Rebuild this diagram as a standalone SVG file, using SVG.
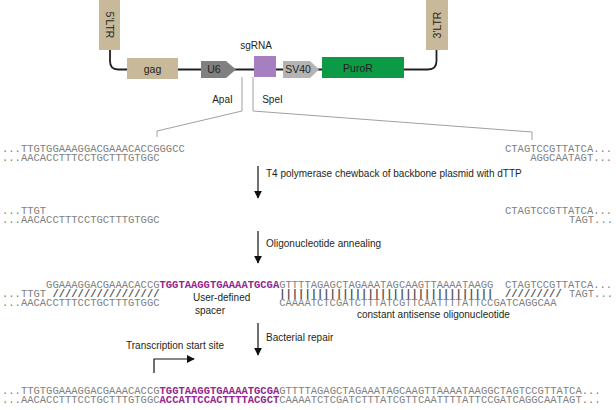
<svg xmlns="http://www.w3.org/2000/svg" width="616" height="410" viewBox="0 0 616 410">
<style>
.lbl{font-family:"Liberation Sans",Arial,sans-serif;font-size:10px;fill:#231f20}
.box{font-family:"Liberation Sans",Arial,sans-serif;font-size:10.5px;fill:#231f20;text-anchor:middle}
.seq{font-family:"Liberation Mono","Courier New",monospace;font-size:10.5px;fill:#808080}
.pur{fill:#93278f;font-weight:bold}
.sl{fill:#555;font-weight:bold}
.gl{fill:none;stroke:#a0a0a0;stroke-width:1}
.arr{stroke:#111;stroke-width:1.2;fill:none}
</style>
<defs>
<marker id="ah" viewBox="0 0 10 10" refX="9" refY="5" markerWidth="8" markerHeight="9" markerUnits="userSpaceOnUse" orient="auto"><path d="M0,0 L10,5 L0,10 z" fill="#111"/></marker>
</defs>
<rect width="616" height="410" fill="#fff"/>
<g id="connectors">
<path d="M110,50 V61 Q110,69.5 118,69.5 H428 Q436.5,69.5 436.5,61 V50" fill="none" stroke="#231f20" stroke-width="1.8"/>
<path class="gl" d="M242,77 V111 L157,131 V137"/>
<path class="gl" d="M253,77 V111 L532,132 V140"/>
<path class="arr" d="M258,166 V198" marker-end="url(#ah)"/>
<path class="arr" d="M258,231 V263" marker-end="url(#ah)"/>
<path class="arr" d="M258,323 V355" marker-end="url(#ah)"/>
<path class="arr" d="M154,373 V359 H194" marker-end="url(#ah)"/>
</g>
<g id="ltr5"><rect x="99" y="0" width="21" height="50" fill="#c8b99b"/><text class="box" transform="translate(109.5,25) rotate(90)" dy="3.5">5'LTR</text></g>
<g id="ltr3"><rect x="426" y="0" width="22" height="50" fill="#c8b99b"/><text class="box" transform="translate(437,25) rotate(-90)" dy="3.5">3'LTR</text></g>
<g id="gag"><rect x="127" y="58" width="51" height="21" fill="#c8b99b"/><text class="box" x="152.5" y="72.5">gag</text></g>
<g id="u6"><polygon points="201,61 226,61 236,69.5 226,78 201,78" fill="#808080"/><text class="box" x="214" y="73">U6</text></g>
<g id="sgrna"><rect x="254" y="56" width="22" height="21" fill="#a67fc1"/><text class="lbl" x="256" y="49" text-anchor="middle" font-size="11">sgRNA</text></g>
<g id="sv40"><polygon points="283,61 310,61 319,69.5 310,78 283,78" fill="#b3b3b3"/><text class="box" x="298" y="73">SV40</text></g>
<g id="puror"><rect x="322" y="57" width="82" height="21" fill="#0c9a46"/><text class="box" x="358" y="71.5">PuroR</text></g>
<g id="sites"><text class="lbl" x="222.5" y="103" text-anchor="middle">ApaI</text><text class="lbl" x="272.5" y="103" text-anchor="middle">SpeI</text></g>
<g id="row1">
<text class="seq"><tspan x="2" y="152">...TTGTGGAAAGGACGAAACACCGGGCC</tspan><tspan x="2" y="161">...AACACCTTTCCTGCTTTGTGGC</tspan></text>
<text class="seq"><tspan x="505" y="152">CTAGTCCGTTATCA...</tspan><tspan x="530.2" y="161">AGGCAATAGT...</tspan></text>
</g>
<g id="step1"><text class="lbl" x="266" y="177">T4 polymerase chewback of backbone plasmid with dTTP</text></g>
<g id="row2">
<text class="seq"><tspan x="2" y="214">...TTGT</tspan><tspan x="2" y="223">...AACACCTTTCCTGCTTTGTGGC</tspan></text>
<text class="seq"><tspan x="505" y="214">CTAGTCCGTTATCA...</tspan><tspan x="568.9" y="223">TAGT...</tspan></text>
</g>
<g id="step2"><text class="lbl" x="266" y="246.5">Oligonucleotide annealing</text></g>
<g id="row3">
<text class="seq"><tspan x="46.1" y="288">GGAAAGGACGAAACACCG</tspan><tspan x="2" y="297">...TTGT</tspan><tspan class="sl" x="52.4" y="297">/////////////////</tspan><tspan x="2" y="306">...AACACCTTTCCTGCTTTGTGGC</tspan></text>
<text class="seq pur" x="159.5" y="288">TGGTAAGGTGAAAATGCGA</text>
<text class="seq"><tspan x="279.2" y="288">GTTTTAGAGCTAGAAATAGCAAGTTAAAATAAGG</tspan><tspan class="sl" x="279.2" y="297">||||||||||||||||||||||||||||||||||</tspan><tspan x="279.2" y="306">CAAAATCTCGATCTTTATCGTTCAATTTTATTCCGATCAGGCAA</tspan></text>
<text class="seq"><tspan x="505" y="288">CTAGTCCGTTATCA...</tspan><tspan class="sl" x="505" y="297">/////////</tspan><tspan x="568.9" y="297">TAGT...</tspan></text>
<text class="lbl" x="193" y="300.5">User-defined</text>
<text class="lbl" x="195" y="314">spacer</text>
<text class="lbl" x="357" y="318">constant antisense oligonucleotide</text>
</g>
<g id="step3"><text class="lbl" x="266" y="341">Bacterial repair</text></g>
<g id="tss"><text class="lbl" x="126" y="348.5">Transcription start site</text></g>
<g id="row4">
<text class="seq"><tspan x="2" y="394">...TTGTGGAAAGGACGAAACACCG<tspan class="pur">TGGTAAGGTGAAAATGCGA</tspan>GTTTTAGAGCTAGAAATAGCAAGTTAAAATAAGGCTAGTCCGTTATCA...</tspan><tspan x="2" y="403">...AACACCTTTCCTGCTTTGTGGC<tspan class="pur">ACCATTCCACTTTTACGCT</tspan>CAAAATCTCGATCTTTATCGTTCAATTTTATTCCGATCAGGCAATAGT...</tspan></text>
</g>
</svg>
